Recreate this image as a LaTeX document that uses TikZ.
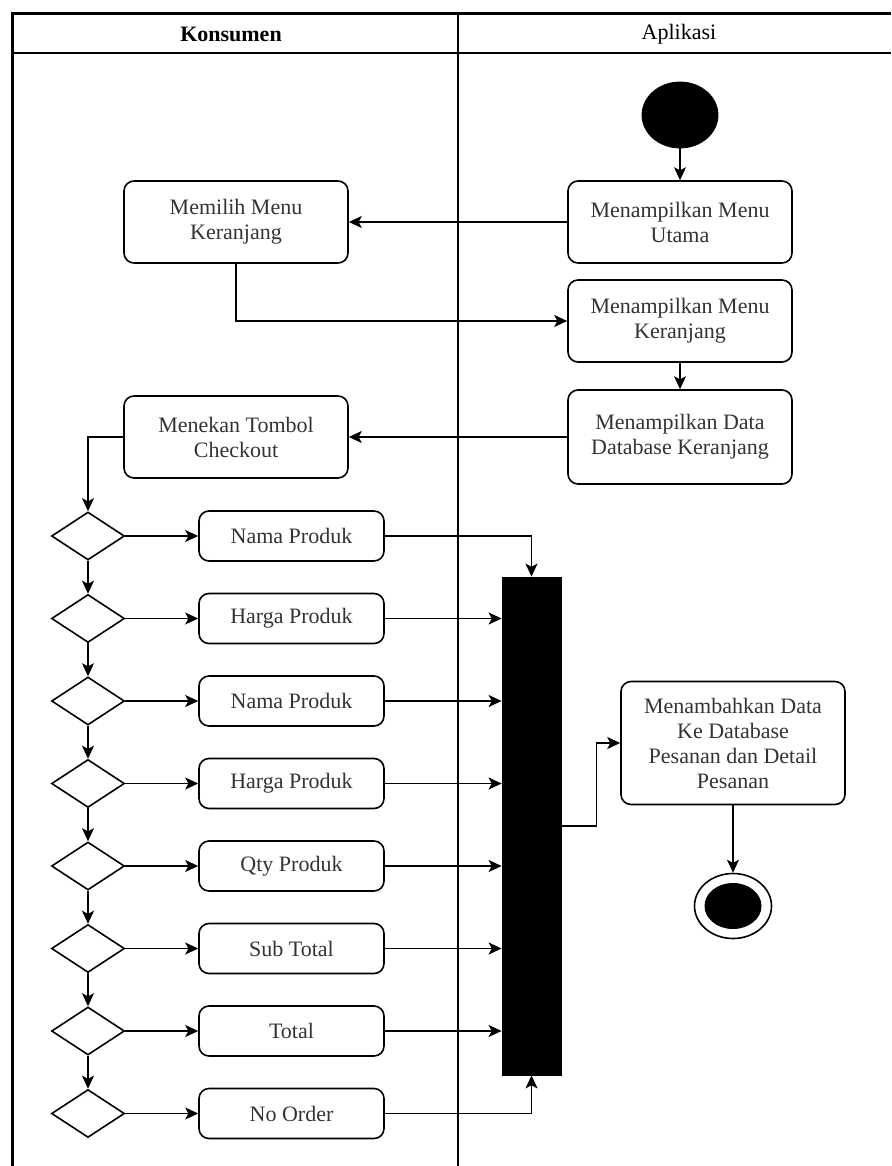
\documentclass[tikz,border=0pt]{standalone}
\usepackage{fontspec}
\setmainfont{Liberation Serif}
\usetikzlibrary{shapes.geometric,arrows.meta}

\begin{document}
\begin{tikzpicture}[x=0.5pt,y=-0.5pt,
  act/.style={draw, rounded corners=5pt, line width=0.8pt, align=center,
    font=\fontsize{11}{12.5}\selectfont, text=black!80, inner sep=2pt,
    minimum width=112pt, minimum height=41pt},
  field/.style={act, minimum width=92.5pt, minimum height=25pt},
  choice/.style={draw, diamond, line width=0.8pt, inner sep=0pt,
    minimum width=36.5pt, minimum height=24pt, aspect=1.52},
  flow/.style={line width=0.8pt, -{Stealth[length=6.5pt,width=6pt,inset=1.6pt]}},
  lane/.style={font=\fontsize{11}{13}\selectfont}
]
\useasboundingbox (0,0) rectangle (891,1166);

% swimlane frame
\draw[line width=1.5pt] (12,1166) -- (12,14) -- (891,14);
\draw[line width=0.9pt] (12,53) -- (891,53);
\draw[line width=0.9pt] (458,14) -- (458,1166);
\node[lane, font=\fontsize{11}{13}\selectfont\bfseries] (h1) at (231,34) {Konsumen};
\node[lane] (h2) at (679,34) {Aplikasi};

% application lane
\node[draw, fill=black, ellipse, minimum width=38pt, minimum height=33pt, inner sep=0pt] (start) at (680,115) {};
\node[act] (utama) at (680,222) {Menampilkan Menu\\Utama};
\node[act] (menuker) at (680,321) {Menampilkan Menu\\Keranjang};
\node[act, minimum height=47pt] (dataker) at (680,437) {Menampilkan Data\\Database Keranjang};

% customer lane
\node[act] (pilih) at (236,222) {Memilih Menu\\Keranjang};
\node[act] (checkout) at (236,437) {Menekan Tombol\\Checkout};

% decisions and order fields
\foreach \i/\t in {1/Nama Produk,2/Harga Produk,3/Nama Produk,4/Harga Produk,5/Qty Produk,6/Sub Total,7/Total,8/No Order}{
  \node[choice] (d\i) at (88,{536+82.5*(\i-1)}) {};
  \node[field] (p\i) at (291.5,{536+82.5*(\i-1)}) {\t};
  \draw[flow] (d\i.east) -- (p\i.west);
}

% join bar, final action and end
\node[draw, fill=black, minimum width=29.5pt, minimum height=249pt, inner sep=0pt] (bar) at (531.5,826) {};
\node[act, minimum height=61.5pt] (tambah) at (733,743) {Menambahkan Data\\Ke Database\\Pesanan dan Detail\\Pesanan};
\node[draw, line width=0.8pt, ellipse, minimum width=38.5pt, minimum height=32.5pt, inner sep=0pt] (end) at (733,906) {};
\node[fill=black, ellipse, minimum width=28.5pt, minimum height=23pt, inner sep=0pt] (endin) at (end.center) {};

% connectors
\draw[flow] (start) -- (utama);
\draw[flow] (utama) -- (pilih);
\draw[flow] (pilih.south) |- (menuker.west);
\draw[flow] (menuker) -- (dataker);
\draw[flow] (dataker) -- (checkout);
\draw[flow] (checkout.west) -| (d1.north);
\foreach \i/\j in {1/2,2/3,3/4,4/5,5/6,6/7,7/8}{
  \draw[flow] (d\i.south) -- (d\j.north);
}
\draw[flow] (p1.east) -| (bar.north);
\foreach \i in {2,...,7}{
  \draw[flow] (p\i.east) -- (bar.west |- p\i.east);
}
\draw[flow] (p8.east) -| (bar.south);
\draw[flow] (bar.east) -- ++(17.5pt,0) |- (tambah.west);
\draw[flow] (tambah) -- (end);
\end{tikzpicture}
\end{document}
